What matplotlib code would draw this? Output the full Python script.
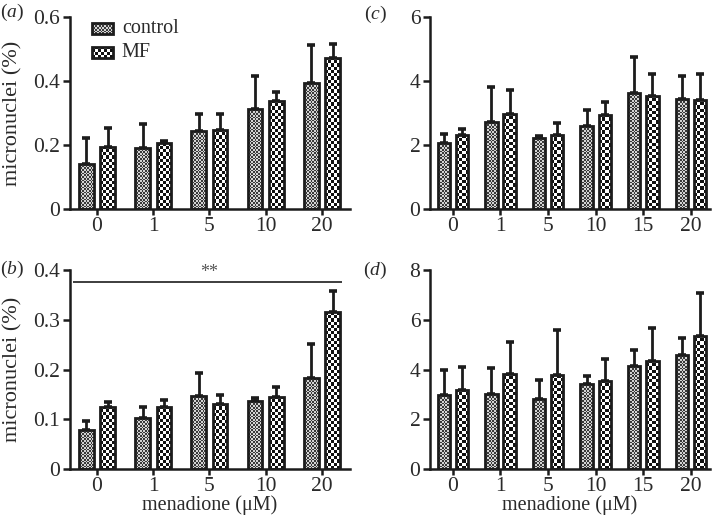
import numpy as np
import matplotlib
matplotlib.use('Agg')
import matplotlib.pyplot as plt
from matplotlib.colors import ListedColormap
from matplotlib.patches import Rectangle

plt.rcParams['font.family'] = ['Liberation Serif', 'DejaVu Serif']
plt.rcParams['mathtext.fontset'] = 'custom'
plt.rcParams['mathtext.rm'] = 'Liberation Serif'
plt.rcParams['mathtext.it'] = 'Liberation Serif:italic'

# data (mean, upper error)
conc_ab = ['0', '1', '5', '10', '20']
conc_cd = ['0', '1', '5', '10', '15', '20']

a_ctrl = [0.14, 0.19, 0.245, 0.312, 0.393]
a_ctrl_sd = [0.082, 0.076, 0.053, 0.103, 0.12]
a_mf = [0.195, 0.205, 0.248, 0.338, 0.472]
a_mf_sd = [0.057, 0.009, 0.048, 0.027, 0.043]

b_ctrl = [0.078, 0.102, 0.148, 0.137, 0.184]
b_ctrl_sd = [0.019, 0.024, 0.045, 0.007, 0.067]
b_mf = [0.126, 0.126, 0.131, 0.145, 0.315]
b_mf_sd = [0.01, 0.014, 0.018, 0.021, 0.042]

c_ctrl = [2.06, 2.73, 2.21, 2.59, 3.61, 3.44]
c_ctrl_sd = [0.3, 1.08, 0.08, 0.49, 1.14, 0.7]
c_mf = [2.3, 2.96, 2.33, 2.94, 3.54, 3.41]
c_mf_sd = [0.21, 0.75, 0.36, 0.4, 0.69, 0.82]

d_ctrl = [3.0, 3.04, 2.84, 3.44, 4.16, 4.6]
d_ctrl_sd = [1.0, 1.03, 0.76, 0.3, 0.64, 0.67]
d_mf = [3.2, 3.84, 3.77, 3.56, 4.36, 5.37]
d_mf_sd = [0.9, 1.27, 1.82, 0.88, 1.31, 1.7]

INK = '#1c1c1c'
TXT = '#2a2a2a'
CTRL_COLORS = ['#3a3a3a', '#d4d4d4']
MF_COLORS = ['#111111', '#ffffff']
W = 718 / 100
H = 520 / 100


def checker(ax, patch, cell, colors, x0, x1, y0, y1, transform=None):
    # fill a patch with a small checkerboard texture
    bb = patch.get_window_extent()
    ncols = max(1, int(round(bb.width / cell)))
    nrows = max(1, int(round(bb.height / cell)))
    img = np.indices((nrows, ncols)).sum(axis=0) % 2
    kw = {}
    if transform is not None:
        kw['transform'] = transform
    im = ax.imshow(img, cmap=ListedColormap(colors), extent=(x0, x1, y0, y1),
                   interpolation='nearest', aspect='auto', origin='lower',
                   zorder=2, **kw)
    im.set_clip_path(patch)


def panel(rect, cats, ctrl, ctrl_sd, mf, mf_sd, ymax, yticks, ylabels, xlim):
    ax = fig.add_axes(rect)
    x = np.arange(len(cats))
    ax.set_xlim(*xlim)
    ax.set_ylim(0, ymax)
    ax.set_autoscale_on(False)
    width, off = 0.26, 0.19
    for vals, sd, sgn, cell, cols in [(ctrl, ctrl_sd, -1, 1.7, CTRL_COLORS),
                                      (mf, mf_sd, 1, 3.2, MF_COLORS)]:
        pos = x + sgn * off
        ax.errorbar(pos, vals, yerr=[np.zeros(len(vals)), sd], fmt='none',
                    ecolor=INK, elinewidth=2.0, capsize=3.2, capthick=2.6, zorder=1)
        bars = ax.bar(pos, vals, width, facecolor='none', edgecolor=INK,
                      linewidth=2.0, zorder=3)
        for b in bars:
            checker(ax, b, cell, cols, b.get_x(), b.get_x() + b.get_width(),
                    0, b.get_height())
    ax.set_xticks(x)
    ax.set_xticklabels(cats)
    ax.set_yticks(yticks)
    ax.set_yticklabels(ylabels)
    for s in ['top', 'right']:
        ax.spines[s].set_visible(False)
    for s in ['left', 'bottom']:
        ax.spines[s].set_linewidth(1.8)
        ax.spines[s].set_color(INK)
    ax.tick_params(axis='y', length=5, width=1.8, pad=2, labelsize=15.5,
                   colors=INK, labelcolor=TXT)
    ax.tick_params(axis='x', length=4, width=1.8, pad=1.5, labelsize=15.5,
                   colors=INK, labelcolor=TXT)
    return ax


fig = plt.figure(figsize=(W, H), dpi=100)

ax_a = panel([70 / 718, 1 - 209.3 / 520, 280 / 718, 192.6 / 520], conc_ab,
             a_ctrl, a_ctrl_sd, a_mf, a_mf_sd, 0.6,
             [0, 0.2, 0.4, 0.6], ['0', '0.2', '0.4', '0.6'], (-0.48, 4.5))
ax_c = panel([430 / 718, 1 - 209.3 / 520, 280 / 718, 192.6 / 520], conc_cd,
             c_ctrl, c_ctrl_sd, c_mf, c_mf_sd, 6,
             [0, 2, 4, 6], ['0', '2', '4', '6'], (-0.48, 5.4))
ax_b = panel([70 / 718, 1 - 469.3 / 520, 280 / 718, 199.3 / 520], conc_ab,
             b_ctrl, b_ctrl_sd, b_mf, b_mf_sd, 0.4,
             [0, 0.1, 0.2, 0.3, 0.4], ['0', '0.1', '0.2', '0.3', '0.4'], (-0.48, 4.5))
ax_d = panel([430 / 718, 1 - 469.3 / 520, 280 / 718, 199.3 / 520], conc_cd,
             d_ctrl, d_ctrl_sd, d_mf, d_mf_sd, 8,
             [0, 2, 4, 6, 8], ['0', '2', '4', '6', '8'], (-0.48, 5.4))

for ax in (ax_a, ax_b):
    ax.set_ylabel('micronuclei (%)', fontsize=16, color=TXT)
    ax.yaxis.set_label_coords(-0.17, 0.5)
for ax in (ax_b, ax_d):
    ax.set_xlabel('menadione (\u03bcM)', fontsize=14.5, color=TXT, va='center')
    ax.xaxis.set_label_coords(0.5, -0.18)

# significance bar in (b)
xb = np.arange(len(conc_ab))
ax_b.hlines(0.375, xb[0] - 0.43, xb[-1] + 0.36, color=INK, linewidth=1.2)
ax_b.text(xb[2], 0.377, '**', ha='center', va='bottom', fontsize=13, color='#555555')

# legend in (a)
for (y0, y1), cell, cols, lab in [((0.91, 0.969), 1.7, CTRL_COLORS, 'control'),
                                   ((0.784, 0.844), 3.2, MF_COLORS, 'MF')]:
    r = Rectangle((0.078, y0), 0.075, y1 - y0, transform=ax_a.transAxes,
                  facecolor='none', edgecolor=INK, linewidth=2.0, zorder=3)
    ax_a.add_patch(r)
    checker(ax_a, r, cell, cols, 0.078, 0.153, y0, y1, transform=ax_a.transAxes)
    ax_a.text(0.185, (y0 + y1) / 2, lab, transform=ax_a.transAxes, fontsize=14.5,
              va='center', ha='left', color=TXT)

for lab, (px, py) in zip('abcd', [(12, 12), (12, 269), (375, 14), (375, 270)]):
    fig.text(px / 718, 1 - py / 520, '(' + r'$\mathit{' + lab + '}$' + ')',
             fontsize=14, ha='center', va='center', color=TXT)

fig.savefig('out.png', dpi=100)
